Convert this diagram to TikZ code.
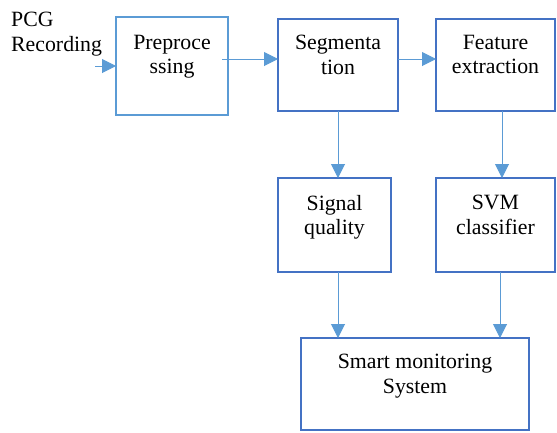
\documentclass[tikz,border=0pt]{standalone}
\usepackage{fontspec}
\setmainfont{Liberation Serif}
\usetikzlibrary{arrows.meta}
\definecolor{lightblue}{HTML}{5B9BD5}
\definecolor{darkblue}{HTML}{4472C4}
\begin{document}
\begin{tikzpicture}[x=1pt,y=-1pt,
  boxA/.style={draw=lightblue,line width=2pt,minimum width=#1,inner sep=0pt,outer sep=0pt},
  boxB/.style={draw=darkblue,line width=2.6pt,inner sep=0pt,outer sep=0pt},
  txt/.style={font=\fontsize{21.8}{24.5}\selectfont,align=center,anchor=north,inner sep=0pt},
  arr/.style={draw=lightblue,line width=1pt,-{Triangle[length=14pt,width=14pt]}}]
\useasboundingbox (0,0) rectangle (557,432);
% boxes
\node[boxA=112pt,minimum height=98pt] (pre) at (172,66) {};
\node[boxB,minimum width=120pt,minimum height=92pt] (seg) at (338,65) {};
\node[boxB,minimum width=119pt,minimum height=92pt] (feat) at (495.5,65) {};
\node[boxB,minimum width=113pt,minimum height=94pt] (sig) at (334.5,225) {};
\node[boxB,minimum width=119pt,minimum height=94pt] (svm) at (495.5,225) {};
\node[boxB,minimum width=228pt,minimum height=92pt] (smart) at (415,384) {};
% texts
\node[txt] (preT) at (172,35) {Preproce\\ssing};
\node[txt] (segT) at (338,35) {Segmenta\\tion};
\node[txt] (featT) at (495.5,35) {Feature\\extraction};
\node[txt] (sigT) at (334.5,195) {Signal\\quality};
\node[txt] (svmT) at (495.5,195) {SVM\\classifier};
\node[txt] (smartT) at (415,354) {Smart monitoring\\System};
\node[txt,align=left,anchor=north west] (pcg) at (11,12) {PCG\\Recording};
% connectors
\coordinate (inA) at (95,66);
\draw[arr] (inA) -- (pre.west);
\coordinate (a1) at (222,59);
\draw[arr] (a1) -- (a1 -| seg.west);
\draw[arr] ([yshift=6pt]seg.east) -- ([yshift=6pt]feat.west);
\draw[arr] (seg.south) -- (seg.south |- sig.north);
\draw[arr] ([xshift=6.5pt]feat.south) -- ([xshift=6.5pt]feat.south |- svm.north);
\draw[arr] ([xshift=3.5pt]sig.south) -- ([xshift=3.5pt]sig.south |- smart.north);
\draw[arr] ([xshift=4.5pt]svm.south) -- ([xshift=4.5pt]svm.south |- smart.north);
\end{tikzpicture}
\end{document}
